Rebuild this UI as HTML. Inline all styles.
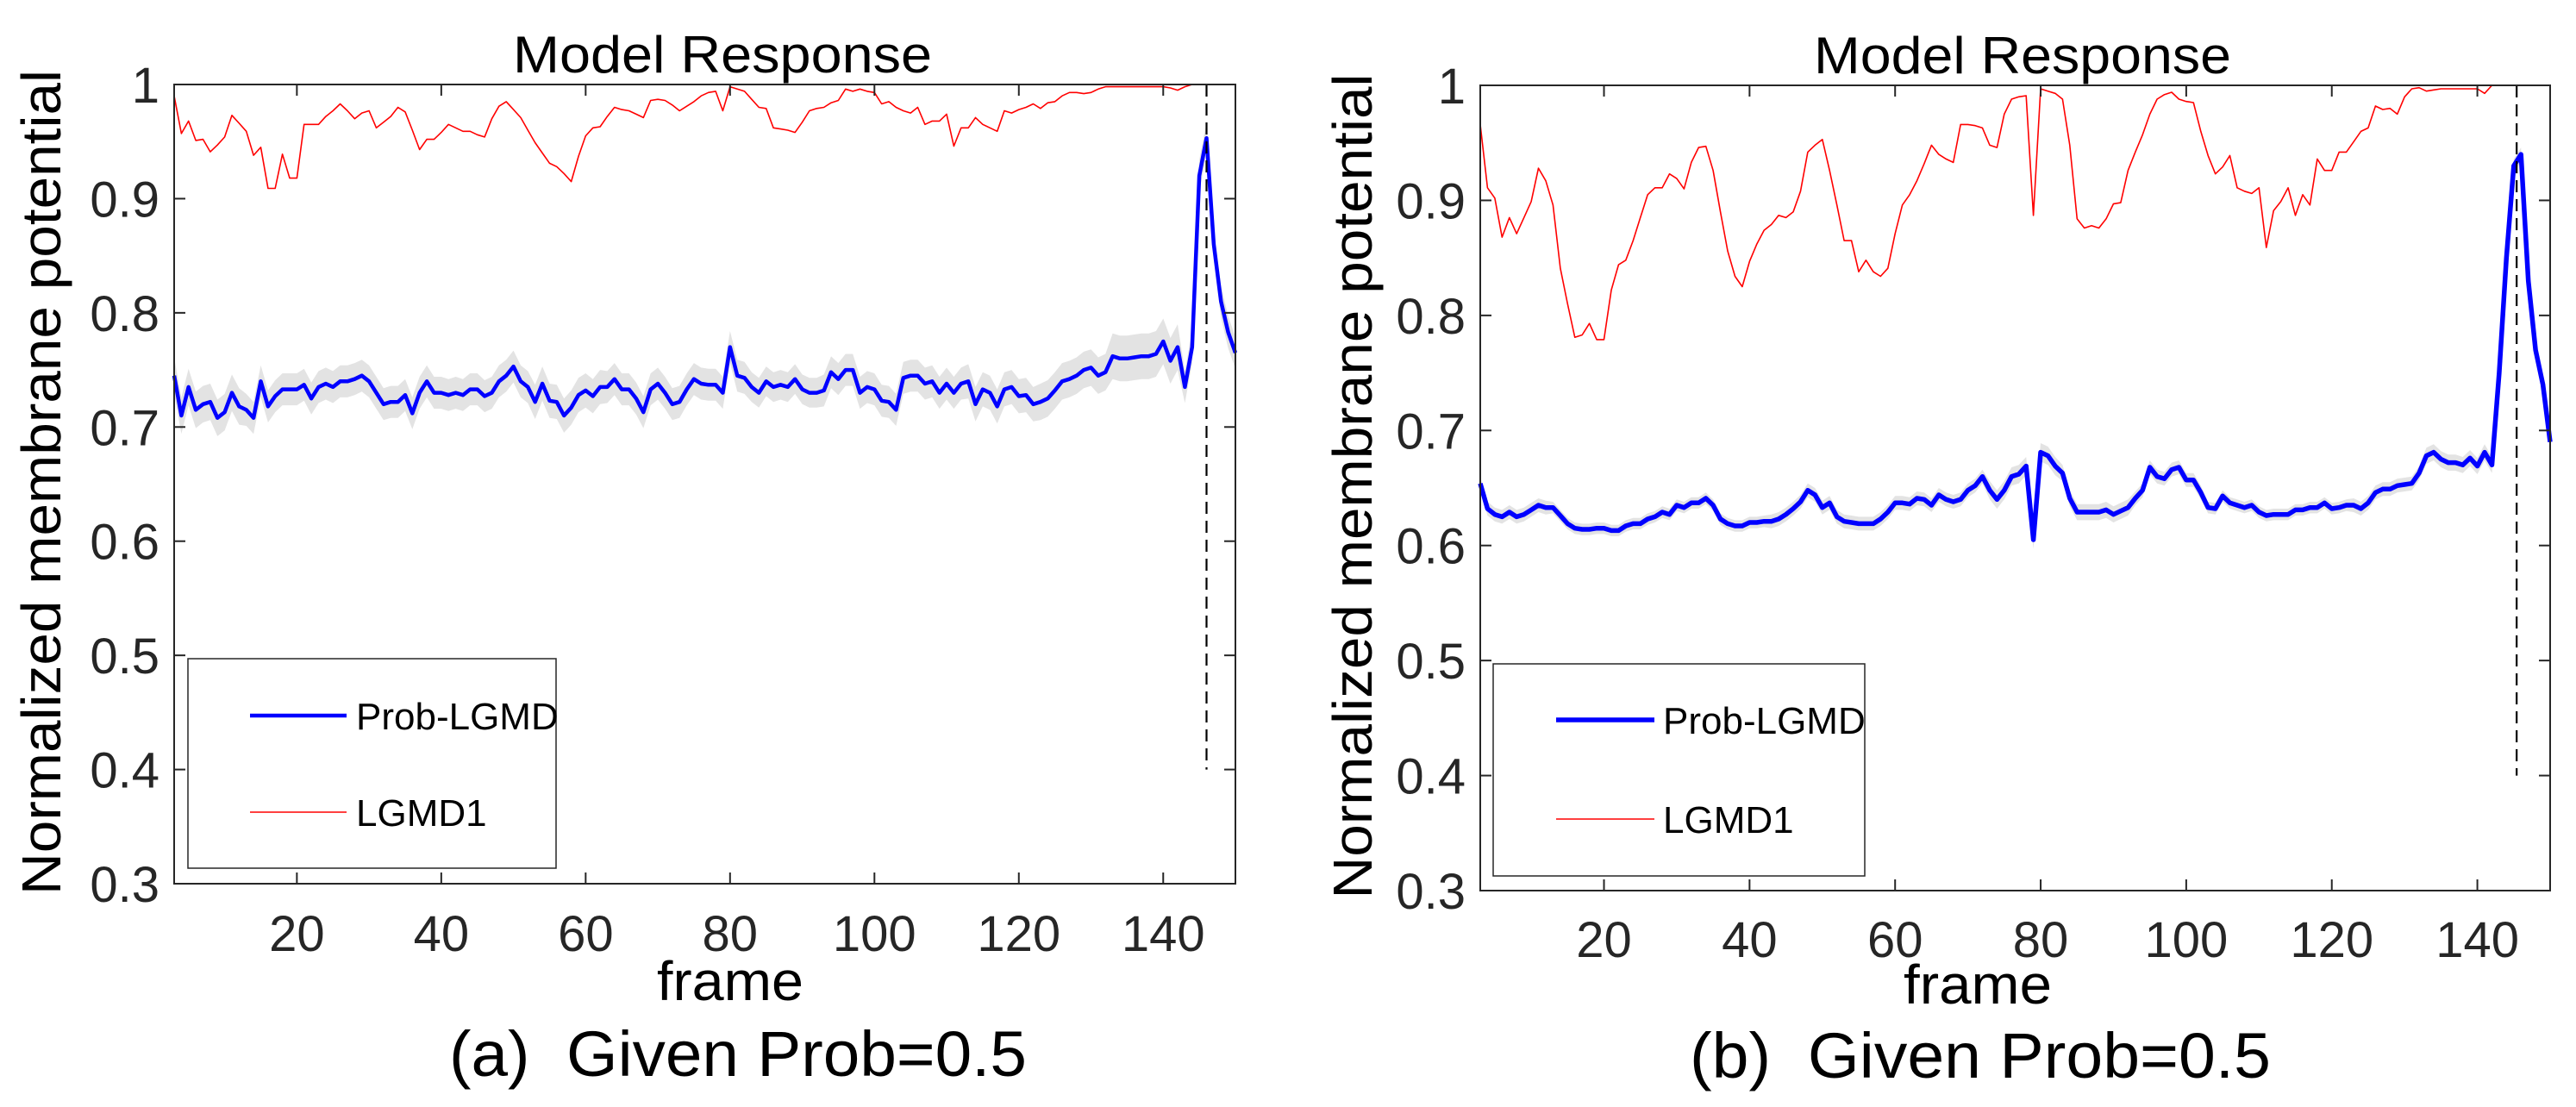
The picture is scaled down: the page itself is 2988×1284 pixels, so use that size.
<!DOCTYPE html>
<html><head><meta charset="utf-8">
<style>
html,body{margin:0;padding:0;background:#fff;}
svg{display:block;font-family:"Liberation Sans",Arial,sans-serif;}
.pre{white-space:pre;}
</style></head>
<body>
<svg id="fig" width="2988" height="1284" viewBox="0 0 2988 1284" xmlns="http://www.w3.org/2000/svg">
<rect width="2988" height="1284" fill="#fff"/>
</svg>
<script>
// ---- data ----
const frameStart = 3;
const xTicks = [20, 40, 60, 80, 100, 120, 140];
const yTicks = [0.3, 0.4, 0.5, 0.6, 0.7, 0.8, 0.9, 1];
const yTickLabels = ["0.3","0.4","0.5","0.6","0.7","0.8","0.9","1"];
const legendLabels = ["Prob-LGMD", "LGMD1"];

const redA = [.99,.957,.968,.951,.952,.941,.947,.954,.973,.966,
.959,.938,.945,.909,.909,.939,.918,.918,.965,.965,
.965,.972,.977,.983,.977,.970,.975,.977,.962,.967,
.972,.980,.976,.96,.943,.952,.952,.958,.965,.962,
.959,.959,.956,.954,.97,.981,.985,.978,.971,.96,
.949,.94,.931,.928,.922,.915,.937,.955,.962,.963,
.972,.980,.978,.977,.974,.971,.986,.987,.986,.982,
.977,.981,.985,.99,.993,.994,.977,.998,.996,.994,
.987,.980,.979,.962,.961,.960,.958,.967,.977,.979,
.980,.984,.986,.996,.994,.996,.994,.993,.983,.985,
.980,.977,.975,.980,.965,.968,.968,.974,.946,.962,
.962,.971,.965,.962,.959,.977,.975,.978,.980,.983,
.979,.984,.985,.99,.993,.993,.992,.993,.996,.998,
.998,.998,.998,.998,.998,.998,.998,.998,.997,.995,
.998,1,1,1,1,1,1,1];
const blueA = [.745,.71,.735,.715,.72,.722,.708,.713,.73,.718,
.715,.708,.74,.718,.727,.733,.733,.733,.737,.725,
.735,.738,.735,.74,.74,.742,.745,.74,.73,.72,
.722,.722,.728,.712,.73,.74,.73,.73,.728,.73,
.728,.733,.733,.727,.73,.74,.745,.753,.74,.735,
.722,.738,.723,.722,.71,.717,.728,.732,.727,.735,
.735,.742,.733,.733,.725,.713,.733,.738,.73,.72,
.722,.733,.742,.738,.737,.737,.73,.77,.745,.743,
.735,.73,.74,.735,.737,.735,.742,.733,.73,.73,
.732,.748,.742,.75,.75,.73,.735,.733,.723,.722,
.715,.743,.745,.745,.738,.74,.73,.738,.73,.738,
.74,.72,.733,.73,.718,.733,.735,.727,.728,.72,
.722,.725,.732,.74,.742,.745,.75,.752,.745,.748,
.762,.76,.76,.761,.762,.762,.764,.775,.758,.77,
.735,.77,.92,.953,.86,.81,.783,.765];
const bandA = [.016,.014,.014,.014,.014,.015,.014,.014,.013,.014,.014,.015,.016,.02,.014];

const redB = [.966,.911,.902,.868,.885,.871,.885,.899,.928,.917,
.896,.841,.81,.781,.783,.793,.779,.779,.822,.844,
.848,.865,.885,.905,.911,.911,.923,.919,.91,.933,
.946,.947,.926,.89,.856,.834,.825,.847,.862,.874,
.879,.887,.885,.89,.908,.942,.948,.953,.926,.896,
.865,.865,.838,.848,.838,.834,.841,.871,.896,.905,
.917,.932,.948,.94,.936,.933,.966,.966,.965,.963,
.948,.946,.975,.988,.99,.991,.887,.997,.995,.993,
.988,.948,.884,.876,.878,.876,.884,.897,.898,.926,
.942,.957,.975,.988,.992,.994,.988,.986,.985,.96,
.939,.923,.929,.939,.911,.908,.906,.911,.859,.891,
.899,.911,.887,.905,.896,.936,.926,.926,.942,.942,
.951,.96,.963,.982,.979,.98,.975,.99,.997,.998,
.995,.996,.997,.997,.997,.997,.997,.997,.993,1,
1,1,1,1,1,1,1,1];
const blueB = [.654,.632,.627,.625,.629,.625,.627,.631,.635,.633,
.633,.626,.619,.615,.614,.614,.615,.615,.613,.613,
.617,.619,.619,.623,.625,.629,.627,.635,.633,.637,
.637,.641,.635,.623,.619,.617,.617,.62,.62,.621,
.621,.623,.627,.632,.638,.648,.644,.633,.637,.625,
.621,.62,.619,.619,.619,.623,.629,.637,.637,.636,
.641,.64,.635,.644,.64,.638,.64,.648,.652,.66,
.648,.64,.648,.66,.662,.669,.605,.681,.678,.669,
.663,.641,.629,.629,.629,.629,.631,.627,.63,.633,
.641,.648,.668,.66,.658,.666,.668,.657,.657,.646,
.633,.632,.643,.637,.635,.633,.635,.629,.626,.627,
.627,.627,.631,.631,.633,.633,.637,.632,.633,.635,
.635,.632,.637,.646,.649,.649,.652,.653,.654,.663,
.678,.681,.675,.672,.672,.67,.676,.669,.681,.67,
.75,.85,.93,.94,.83,.77,.74,.69];
const bandB = [.006,.005,.005,.005,.006,.006,.006,.008,.007,.006,.005,.005,.006,.007,.006];

const panels = [
 {id:"a", L:202, R:1433, T:98, B:1025, red:redA, blue:blueA, band:bandA, blueW:4.5, alarm:146,
  leg:{x:218,y:764,w:427,h:243,l1:290,l2:402,tx:413,y1:830,y2:942},
  title:{x:838,y:84,len:486}, ylab:{x:70,len:957}, xtickY:1103, frameLbl:{x:847,y:1160,len:170},
  cap:{x:521,y:1248,len:670,text:"(a)  Given Prob=0.5"}},
 {id:"b", L:1717, R:2958, T:99, B:1033, red:redB, blue:blueB, band:bandB, blueW:5.5, alarm:145.4,
  leg:{x:1732,y:770,w:431,h:246,l1:1805,l2:1919,tx:1929,y1:835,y2:950},
  title:{x:2346,y:85,len:484}, ylab:{x:1591,len:957}, xtickY:1110, frameLbl:{x:2294,y:1164,len:172},
  cap:{x:1960,y:1250,len:674,text:"(b)  Given Prob=0.5"}}
];

const NS = "http://www.w3.org/2000/svg";
const svg = document.getElementById("fig");
function mk(tag, attrs, parent){
  const e = document.createElementNS(NS, tag);
  for (const k in attrs) e.setAttribute(k, attrs[k]);
  (parent||svg).appendChild(e);
  return e;
}

panels.forEach(p => {
  const g = mk("g", {});
  
  
  const xs = f => p.L + (f - 3) / (150 - 3) * (p.R - p.L);
  const ys = v => p.B - (v - 0.3) / 0.7 * (p.B - p.T);

  let up = [], lo = [];
  p.blue.forEach((v, i) => {
    const f = frameStart + i, b = p.band[Math.min(p.band.length-1, Math.floor(i/10))];
    up.push(xs(f).toFixed(1) + "," + ys(Math.min(1, v + b)).toFixed(1));
    lo.unshift(xs(f).toFixed(1) + "," + ys(v - b).toFixed(1));
  });
  const band = mk("polygon", {points: up.concat(lo).join(" "), fill:"#e3e3e3", stroke:"none"}, g);
  
  

  const rp = p.red.map((v, i) => xs(frameStart + i).toFixed(1) + "," + ys(v).toFixed(1)).join(" ");
  const rl = mk("polyline", {points: rp, fill:"none", stroke:"#ff0000", "stroke-width":1.6, "stroke-linejoin":"round"}, g);
  
  

  const bp = p.blue.map((v, i) => xs(frameStart + i).toFixed(1) + "," + ys(v).toFixed(1)).join(" ");
  const bl = mk("polyline", {points: bp, fill:"none", stroke:"#0000ff", "stroke-width":p.blueW, "stroke-linejoin":"round"}, g);
  
  

  const dl = mk("line", {x1:xs(p.alarm), x2:xs(p.alarm), y1:ys(1), y2:ys(0.4), stroke:"#000", "stroke-width":2.2, "stroke-dasharray":"14,8"}, g);
  
  

  const box = mk("rect", {x:p.L, y:p.T, width:p.R-p.L, height:p.B-p.T, fill:"none", stroke:"#262626", "stroke-width":2}, g);
  
  

  xTicks.forEach(t => {
    const x = xs(t);
    mk("line", {x1:x, x2:x, y1:p.B, y2:p.B-13, stroke:"#262626", "stroke-width":2}, g);
    mk("line", {x1:x, x2:x, y1:p.T, y2:p.T+13, stroke:"#262626", "stroke-width":2}, g);
    const tl = mk("text", {x:x, y:p.xtickY, "font-size":58, fill:"#262626", "text-anchor":"middle"}, g);
    tl.textContent = String(t);
    
    
  });
  yTicks.forEach((t, i) => {
    const y = ys(t);
    mk("line", {x1:p.L, x2:p.L+13, y1:y, y2:y, stroke:"#262626", "stroke-width":2}, g);
    mk("line", {x1:p.R, x2:p.R-13, y1:y, y2:y, stroke:"#262626", "stroke-width":2}, g);
    const tl = mk("text", {x:p.L-17, y:y+21, "font-size":58, fill:"#262626", "text-anchor":"end"}, g);
    tl.textContent = yTickLabels[i];
    
    
  });

  const lg = mk("g", {}, g);
  
  
  mk("rect", {x:p.leg.x, y:p.leg.y, width:p.leg.w, height:p.leg.h, fill:"#fff", stroke:"#262626", "stroke-width":1.5}, lg);
  mk("line", {x1:p.leg.l1, x2:p.leg.l2, y1:p.leg.y1, y2:p.leg.y1, stroke:"#0000ff", "stroke-width":p.blueW}, lg);
  mk("line", {x1:p.leg.l1, x2:p.leg.l2, y1:p.leg.y2, y2:p.leg.y2, stroke:"#ff0000", "stroke-width":1.6}, lg);
  const t1 = mk("text", {x:p.leg.tx, y:p.leg.y1+16, "font-size":44, fill:"#000"}, lg);
  t1.textContent = legendLabels[0];
  
  
  const t2 = mk("text", {x:p.leg.tx, y:p.leg.y2+16, "font-size":44, fill:"#000"}, lg);
  t2.textContent = legendLabels[1];
  
  

  const ti = mk("text", {x:p.title.x, y:p.title.y, "font-size":60, fill:"#000", "text-anchor":"middle", textLength:p.title.len, lengthAdjust:"spacingAndGlyphs"}, g);
  ti.textContent = "Model Response";
  
  

  const yc = (p.T + p.B) / 2;
  const yl = mk("text", {x:0, y:0, "font-size":64, fill:"#000", "text-anchor":"middle", textLength:p.ylab.len, lengthAdjust:"spacingAndGlyphs", transform:"translate(" + p.ylab.x + "," + (yc - 2) + ") rotate(-90)"}, g);
  yl.textContent = "Normalized membrane potential";
  
  

  const xl = mk("text", {x:p.frameLbl.x, y:p.frameLbl.y, "font-size":64, fill:"#000", "text-anchor":"middle", textLength:p.frameLbl.len, lengthAdjust:"spacingAndGlyphs"}, g);
  xl.textContent = "frame";
  
  

  const cp = mk("text", {x:p.cap.x, y:p.cap.y, "font-size":74, fill:"#000", textLength:p.cap.len, lengthAdjust:"spacingAndGlyphs", "class":"pre"}, g);
  cp.textContent = p.cap.text;
  
  
});
</script>
</body></html>
